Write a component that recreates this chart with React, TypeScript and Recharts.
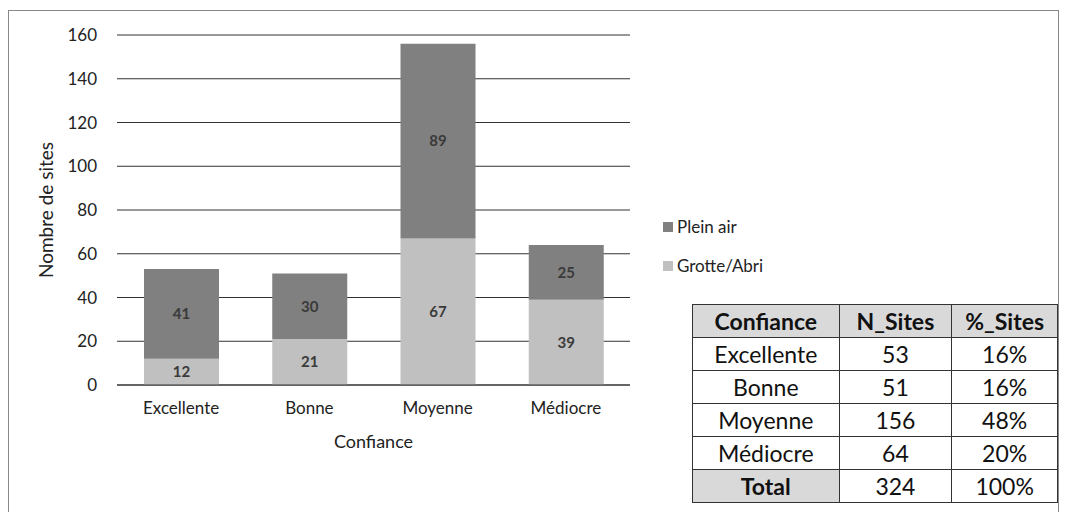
import React from "react";
import { BarChart, Bar, XAxis, YAxis, CartesianGrid, Legend, LabelList } from "recharts";

const categories = ["Excellente", "Bonne", "Moyenne", "Médiocre"];
const grotteAbri = [12, 21, 67, 39];
const pleinAir = [41, 30, 89, 25];
const yTicks = [0, 20, 40, 60, 80, 100, 120, 140, 160];

const DARK = "#808080";
const LIGHT = "#c0c0c0";
const FONT = "Lato, 'Open Sans', sans-serif";

const data = categories.map((c, i) => ({ cat: c, grotte: grotteAbri[i], plein: pleinAir[i] }));
const totals = categories.map((_, i) => grotteAbri[i] + pleinAir[i]);
const grandTotal = totals.reduce((a, b) => a + b, 0);

const LegendBox = ({ payload }: any) => {
  const items = [...(payload || [])].reverse();
  return (
    <div style={{ fontFamily: FONT, fontSize: 17, color: "#222" }}>
      {items.map((p: any) => (
        <div key={p.value} style={{ display: "flex", alignItems: "center", height: 39 }}>
          <span style={{ width: 10, height: 10, background: p.color, marginRight: 4 }} />
          {p.value}
        </div>
      ))}
    </div>
  );
};

const YTitle = ({ viewBox }: any) => {
  const cx = 45;
  const cy = viewBox.y + viewBox.height / 2;
  return (
    <text x={cx} y={cy} transform={`rotate(-90 ${cx} ${cy})`} textAnchor="middle" dominantBaseline="central"
      fill="#222" fontSize={19} fontFamily={FONT}>
      Nombre de sites
    </text>
  );
};

const cell: React.CSSProperties = { border: "1.5px solid #333", textAlign: "center", padding: 0, height: 32 };

export default function App() {
  return (
    <div style={{ position: "absolute", left: 0, top: 0, width: 1067, height: 512, background: "#fff", overflow: "hidden" }}>
      <div style={{ position: "absolute", left: 8, top: 10, width: 1051, height: 520, border: "1px solid #888", boxSizing: "border-box" }} />
      <div style={{ position: "absolute", left: 0, top: 0 }}>
        <BarChart width={1067} height={470} data={data} margin={{ top: 35, right: 437, left: 0, bottom: 20 }}>
          <CartesianGrid horizontal vertical={false} stroke="#333" strokeWidth={1} />
          <XAxis dataKey="cat" height={65} axisLine={{ stroke: "#333" }} tickLine={false} tickSize={0} tickMargin={17}
            tick={{ fill: "#222", fontSize: 17, fontFamily: FONT }}
            label={{ value: "Confiance", position: "insideBottom", offset: 2, fill: "#222", fontSize: 18, fontFamily: FONT }} />
          <YAxis width={117} domain={[0, 160]} ticks={yTicks} axisLine={false} tickLine={false} tickSize={0} tickMargin={20}
            tick={{ fill: "#222", fontSize: 17, fontFamily: FONT }} label={{ content: YTitle }} />
          <Legend layout="horizontal" verticalAlign="middle" align="center" content={<LegendBox />}
            wrapperStyle={{ left: 663, top: 207, width: 160 }} />
          <Bar dataKey="grotte" name="Grotte/Abri" stackId="s" fill={LIGHT} barSize={75} isAnimationActive={false}>
            <LabelList dataKey="grotte" position="center" fill="#3a3a3a" fontSize={15} fontWeight="bold" fontFamily={FONT} />
          </Bar>
          <Bar dataKey="plein" name="Plein air" stackId="s" fill={DARK} barSize={75} isAnimationActive={false}>
            <LabelList dataKey="plein" position="center" fill="#3a3a3a" fontSize={15} fontWeight="bold" fontFamily={FONT} />
          </Bar>
        </BarChart>
      </div>
      <table style={{ position: "absolute", left: 692, top: 304, width: 366, borderCollapse: "collapse", fontFamily: FONT, fontSize: 23, color: "#111" }}>
        <colgroup>
          <col style={{ width: 147 }} />
          <col style={{ width: 113 }} />
          <col style={{ width: 106 }} />
        </colgroup>
        <tbody>
          <tr style={{ background: "#d9d9d9", fontWeight: "bold" }}>
            <td style={cell}>Confiance</td>
            <td style={cell}>N_Sites</td>
            <td style={cell}>%_Sites</td>
          </tr>
          {categories.map((c, i) => (
            <tr key={c}>
              <td style={cell}>{c}</td>
              <td style={cell}>{totals[i]}</td>
              <td style={cell}>{Math.round((totals[i] / grandTotal) * 100)}%</td>
            </tr>
          ))}
          <tr>
            <td style={{ ...cell, background: "#d9d9d9", fontWeight: "bold" }}>Total</td>
            <td style={cell}>{grandTotal}</td>
            <td style={cell}>100%</td>
          </tr>
        </tbody>
      </table>
    </div>
  );
}
